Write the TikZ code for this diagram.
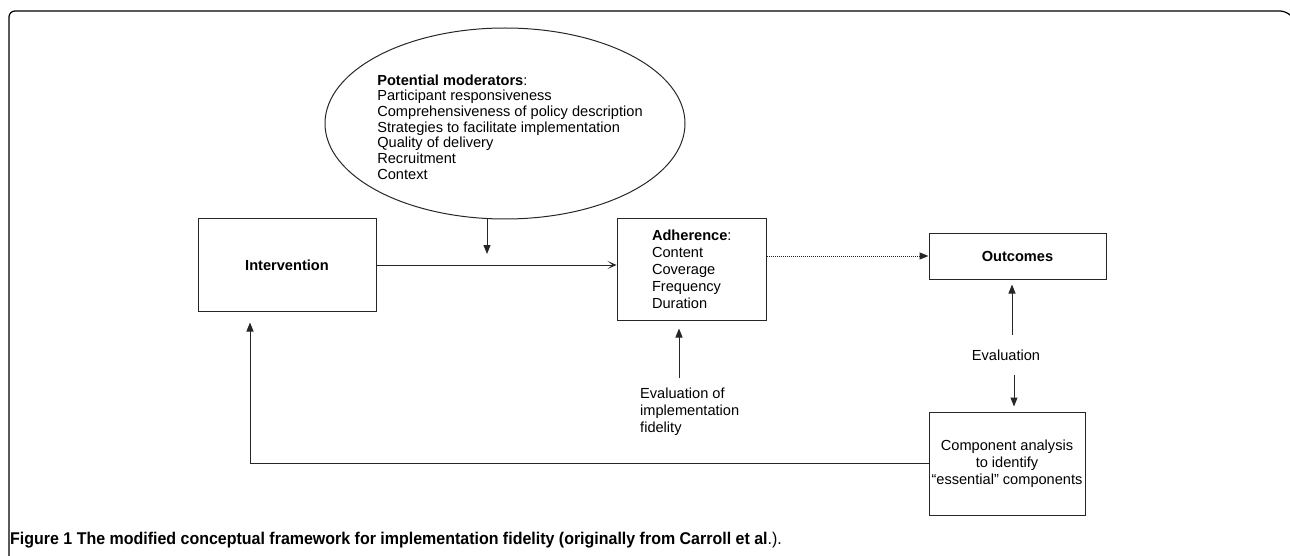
\documentclass[tikz,border=0pt]{standalone}
\usepackage{fontspec}
\setmainfont{Liberation Sans}
\newfontfamily\capfont[FakeStretch=0.94]{Liberation Sans}
\usetikzlibrary{arrows.meta,shapes.geometric}

\begin{document}
\begin{tikzpicture}[x=1pt,y=-1pt,
    box/.style={draw=black!85,line width=1pt,rectangle,inner sep=0pt},
    lbl/.style={font=\fontsize{14.6}{17}\selectfont,inner sep=0pt},
    tri/.style={-{Triangle[length=9pt,width=7pt]},line width=1pt,draw=black!85},
    thin arr/.style={-{Stealth[length=9pt,width=8pt,inset=5pt]},line width=1pt,draw=black!85}]
    \useasboundingbox (0,0) rectangle (1290,556);
    \draw[line width=1.2pt,rounded corners=6pt] (9,556)|-(1286,11)--(1289,14);

    \node (mod) at (505,123.5)[box,ellipse,minimum width=360pt,minimum height=191pt]{};
    \node (modtxt) at (510,127)[lbl,align=left,font=\fontsize{14.6}{15.7}\selectfont]{\textbf{Potential moderators}:\\Participant responsiveness\\Comprehensiveness of policy description\\Strategies to facilitate implementation\\Quality of delivery\\Recruitment\\Context};

    \node (int) at (287,265)[box,minimum width=178pt,minimum height=92pt,lbl]{\textbf{Intervention}};
    \node (adh) at (691.5,269.5)[box,lbl,align=left,text width=79pt,inner xsep=35pt,minimum height=101pt]{\textbf{Adherence}:\\Content\\Coverage\\Frequency\\Duration};
    \node (out) at (1017.5,256)[box,minimum width=177pt,minimum height=46pt,lbl]{\textbf{Outcomes}};
    \node (comp) at (1007,463.5)[box,minimum width=156pt,minimum height=103pt,lbl,align=center]{Component analysis\\to identify\\``essential'' components};

    \node (fid) at (640,378)[lbl,anchor=north west,align=left,inner ysep=10pt]{Evaluation of\\implementation\\fidelity};
    \node (ev) at (1006,355)[lbl,inner ysep=14pt]{Evaluation};

    \coordinate (tap) at (487,265);
    \draw[thin arr] (int.east)--(int.east -| adh.west);
    \draw[tri] (mod.south -| tap)--([yshift=11pt]tap);
    \draw[tri,densely dotted] (adh.east |- out.west)--(out.west);
    \draw[tri,shorten >=8pt] ([xshift=-12.5pt]adh.south |- fid.north)--([xshift=-12.5pt]adh.south);
    \draw[tri,shorten >=5pt] ([xshift=6pt]ev.north)--([xshift=6pt]ev.north |- out.south);
    \draw[tri,shorten >=5pt] ([xshift=8pt]ev.south)--([xshift=8pt]ev.south |- comp.north);
    \draw[tri,shorten >=11pt] (comp.west) -| ([xshift=-37pt]int.south);

    \node (cap) at (10,540)[anchor=west,inner sep=0pt,font=\capfont\fontsize{17}{20}\selectfont]{\textbf{Figure 1 The modified conceptual framework for implementation fidelity (originally from Carroll et al}.).};
\end{tikzpicture}
\end{document}
